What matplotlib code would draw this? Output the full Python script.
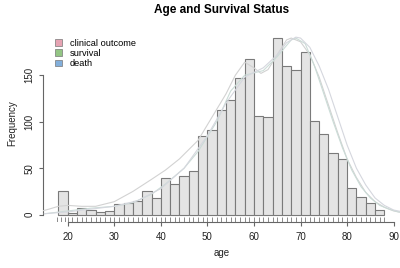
import numpy as np
import matplotlib
matplotlib.use('Agg')
import matplotlib.pyplot as plt
from matplotlib.patches import Patch

# histogram of age, 2-year bins starting at 18
bin_start = 18
bin_width = 2
counts = [25, 2, 7, 5, 3, 4, 12, 13, 15, 25, 18, 39, 33, 42, 47, 85, 91, 113,
          123, 147, 167, 106, 105, 190, 160, 156, 175, 101, 87, 66, 60, 29,
          19, 13, 5]

# rug of observed ages
rug_ages = [17.8, 18.6, 19.4, 20, 21, 22, 23, 24, 25, 26, 27, 28, 29, 30, 31,
            32, 33, 34, 35, 36, 37, 38, 39, 40, 41, 42, 43, 44, 45, 46, 47, 48,
            49, 50, 51, 52, 53, 54, 55, 56, 57, 58, 59, 60, 61, 62, 63, 64, 65,
            66, 67, 68, 69, 70, 71, 72, 73, 74, 75, 76, 77, 78, 79, 80, 81, 82,
            83, 84, 85, 86, 87, 88]

# density curves (scaled to counts)
clin_age = [13, 16, 18, 20, 23, 26, 30, 34, 38, 41, 44, 48, 51, 54, 56, 58,
            60, 61.5, 63, 65, 67, 68, 70, 72, 74, 76, 78, 80, 82, 84, 86, 88,
            90, 92]
clin_cnt = [2, 6, 9, 10, 9, 9, 14, 25, 38, 48, 60, 80, 105, 130, 150, 164,
            158, 152, 156, 172, 188, 190, 186, 172, 148, 118, 88, 60, 40, 24,
            14, 8, 4, 2]
surv_age = [15, 20, 25, 30, 34, 38, 41, 45, 48, 52, 55, 58, 62, 65, 68, 69,
            71, 73, 75, 77, 79, 81, 83, 85, 87, 89, 91, 93]
surv_cnt = [1, 4, 7, 9, 13, 22, 33, 50, 68, 100, 133, 150, 155, 170, 188, 190,
            184, 160, 130, 100, 72, 48, 30, 18, 10, 6, 3, 2]
death_age = [15, 20, 25, 30, 35, 40, 45, 50, 54, 58, 62, 65, 67, 69, 70, 72,
             74, 76, 78, 80, 82, 84, 86, 88, 90, 92]
death_cnt = [1, 3, 6, 9, 15, 28, 50, 85, 120, 148, 158, 172, 185, 191, 190,
             180, 160, 135, 105, 75, 50, 32, 18, 10, 5, 3]

legend_labels = ['clinical outcome', 'survival', 'death']
legend_colors = ['#e6a3b3', '#93c584', '#82afdb']
xticks = [20, 30, 40, 50, 60, 70, 80, 90]
yticks = [0, 50, 100, 150]


def main():
    plt.rcParams['font.family'] = ['Liberation Sans', 'DejaVu Sans']
    fig = plt.figure(figsize=(4, 2.68), dpi=100)
    ax = fig.add_axes([0.1075, 0.1705, 0.8925, 0.7395])

    edges = bin_start + bin_width * np.arange(len(counts))
    ax.bar(edges, counts, width=bin_width, align='edge', color='#e4e4e4',
           edgecolor='#7a7a7a', linewidth=0.8, zorder=2)

    ax.plot(clin_age, clin_cnt, color='#d2d2d2', lw=0.8, zorder=3)
    ax.plot(surv_age, surv_cnt, color='#cbdcd7', lw=0.8, zorder=3)
    ax.plot(death_age, death_cnt, color='#d5d7de', lw=0.8, zorder=3)

    ax.vlines(rug_ages, 0, 0.028, transform=ax.get_xaxis_transform(),
              color='#777777', lw=0.6, zorder=3)

    ax.set_xlim(14.7, 91.36)
    ax.set_ylim(-8.2, 205)
    for s in ['top', 'right']:
        ax.spines[s].set_visible(False)
    ax.spines['left'].set_bounds(0, 150)
    ax.spines['bottom'].set_bounds(20, 90)
    for s in ['left', 'bottom']:
        ax.spines[s].set_color('#666666')
        ax.spines[s].set_linewidth(0.8)

    ax.set_xticks(xticks)
    ax.set_yticks(yticks)
    ax.set_yticklabels([str(v) for v in yticks], rotation=90, va='center')
    ax.tick_params(axis='both', colors='#666666', labelcolor='#222222',
                   labelsize=7, length=3.2, width=0.8)
    ax.tick_params(axis='x', pad=4)
    ax.tick_params(axis='y', pad=3)

    ax.set_xlabel('age', fontsize=7, color='#222222', labelpad=4)
    ax.set_ylabel('Frequency', fontsize=7, color='#222222', labelpad=5)
    ax.set_title('Age and Survival Status', fontsize=8.5, fontweight='bold',
                 pad=8)

    handles = [Patch(facecolor=c, edgecolor='#777777', linewidth=0.5)
               for c in legend_colors]
    ax.legend(handles, legend_labels, loc='upper left',
              bbox_to_anchor=(0.015, 0.96), frameon=False, fontsize=6.7,
              handlelength=0.8, handleheight=0.7, handletextpad=0.8,
              labelspacing=0.15, borderpad=0.2)

    fig.savefig('out.png', dpi=100)


if __name__ == '__main__':
    main()
